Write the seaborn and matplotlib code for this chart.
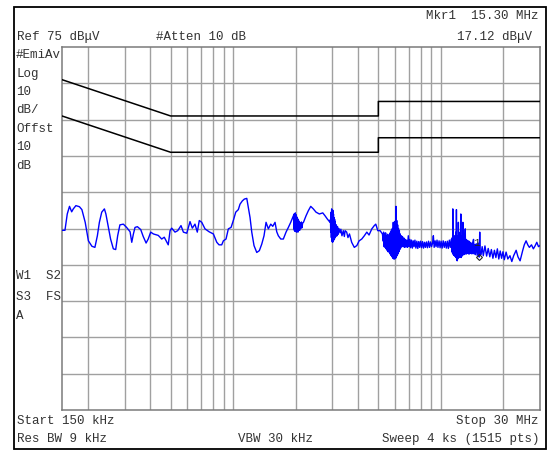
import numpy as np
import pandas as pd
import matplotlib.pyplot as plt
import seaborn as sns
from matplotlib.patches import Rectangle

# EMI scan, average detector: frequency in MHz, level in dBuV
# in segments (smooth part, then the noisy bursts)
seg1_freq = [
    0.150, 0.155, 0.159, 0.163, 0.167, 0.170, 0.175, 0.182, 0.187, 0.194,
    0.201, 0.209, 0.216, 0.222, 0.227, 0.233, 0.240, 0.244, 0.251, 0.257,
    0.265, 0.272, 0.278, 0.285, 0.296, 0.307, 0.319, 0.325, 0.331, 0.337,
    0.346, 0.359, 0.369, 0.381, 0.390, 0.401, 0.413, 0.436, 0.453, 0.466,
    0.487, 0.497, 0.506, 0.525, 0.541, 0.561, 0.576, 0.598, 0.620, 0.636,
    0.655, 0.672, 0.687, 0.706, 0.732, 0.766, 0.803, 0.834, 0.855, 0.881,
    0.897, 0.924, 0.948, 0.977, 1.002, 1.029, 1.059, 1.079, 1.107, 1.132,
    1.163, 1.183, 1.206, 1.229, 1.260, 1.299, 1.337, 1.373, 1.408, 1.440,
    1.477, 1.517, 1.551, 1.591, 1.621, 1.650, 1.695, 1.744, 1.797, 1.844,
    1.893, 1.949,
]
seg1_level = [
    24.5, 24.5, 29.0, 31.1, 29.6, 30.4, 31.3, 31.0, 30.2, 26.7,
    21.6, 20.1, 19.8, 23.0, 26.7, 29.5, 30.4, 29.0, 25.3, 22.1,
    19.4, 19.2, 23.0, 26.0, 26.2, 25.3, 24.1, 21.2, 23.5, 25.3,
    25.5, 24.7, 22.8, 21.0, 22.1, 24.0, 23.5, 23.1, 22.1, 22.6,
    20.5, 24.4, 25.1, 24.0, 24.4, 25.8, 24.0, 23.7, 26.9, 25.1,
    26.2, 24.0, 27.2, 26.7, 24.9, 24.1, 23.5, 21.2, 20.5, 20.5,
    21.6, 22.1, 24.9, 25.3, 27.2, 29.5, 30.2, 31.7, 32.6, 33.1,
    33.3, 30.8, 28.0, 24.0, 20.3, 18.4, 18.9, 20.7, 23.0, 26.7,
    24.9, 26.2, 25.6, 26.7, 24.1, 23.0, 22.1, 22.1, 24.0, 25.3,
    26.7, 28.5,
]

seg2_freq = [
    1.955, 1.960, 1.965, 1.970, 1.978, 1.985, 1.992, 2.000, 2.008, 2.016,
    2.024, 2.032, 2.040, 2.050, 2.060, 2.070, 2.080, 2.090, 2.100, 2.115,
    2.130, 2.145, 2.160, 2.180, 2.243, 2.301, 2.363, 2.432, 2.506, 2.600,
    2.700, 2.769, 2.841, 2.927,
]
seg2_level = [
    27.5, 25.0, 29.0, 24.5, 28.6, 24.2, 29.3, 24.8, 28.8, 24.0,
    28.2, 24.4, 27.8, 24.0, 27.4, 24.6, 27.0, 24.5, 26.6, 25.0,
    26.8, 25.2, 26.5, 26.7, 28.5, 29.9, 31.1, 30.4, 29.5, 29.0,
    29.3, 28.5, 27.6, 26.7,
]

seg3_freq = [
    2.94, 2.95, 2.96, 2.97, 2.98, 2.99, 3.00, 3.01, 3.02, 3.03,
    3.04, 3.05, 3.06, 3.07, 3.08, 3.09, 3.10, 3.12, 3.14, 3.16,
    3.18, 3.20, 3.23, 3.27, 3.30, 3.34, 3.39, 3.43, 3.46, 3.52,
    3.57, 3.63, 3.72, 3.83, 3.94, 4.04, 4.16, 4.28, 4.40, 4.51,
    4.65, 4.78, 4.86, 4.97, 5.10, 5.23,
]
seg3_level = [
    27.5, 24.0, 29.5, 22.5, 30.4, 21.5, 29.8, 21.2, 30.0, 21.5,
    29.0, 21.8, 28.0, 22.0, 27.5, 22.4, 26.8, 22.8, 26.0, 23.0,
    25.5, 23.4, 25.0, 23.8, 24.8, 23.0, 24.4, 22.8, 24.4, 24.0,
    22.5, 23.5, 21.2, 19.8, 20.3, 21.6, 22.1, 23.0, 24.0, 23.2,
    24.9, 25.8, 26.2, 24.4, 24.4, 23.5,
]

seg4_freq = [
    5.28, 5.30, 5.33, 5.36, 5.39, 5.42, 5.45, 5.48, 5.51, 5.54,
    5.57, 5.60, 5.63, 5.66, 5.69, 5.72, 5.75, 5.78, 5.81, 5.84,
    5.87, 5.90, 5.93, 5.96, 5.99, 6.02, 6.05, 6.08, 6.10, 6.13,
    6.16, 6.19, 6.22, 6.25, 6.28, 6.31, 6.34, 6.37, 6.40, 6.44,
    6.48,
]
seg4_level = [
    21.5, 24.0, 20.0, 23.5, 19.8, 23.8, 19.4, 23.0, 19.0, 23.4,
    18.6, 22.8, 18.5, 23.5, 18.0, 24.0, 17.6, 24.5, 17.2, 25.0,
    16.8, 26.7, 16.6, 25.5, 16.6, 27.0, 16.8, 31.1, 17.0, 27.2,
    17.5, 26.0, 18.0, 25.0, 18.6, 24.4, 19.2, 23.5, 19.6, 23.0,
    20.0,
]

seg5_freq = [
    6.53, 6.58, 6.63, 6.68, 6.73, 6.78, 6.84, 6.90, 6.97, 7.03,
    7.09, 7.15, 7.22, 7.29, 7.36, 7.43, 7.50, 7.58, 7.66, 7.74,
    7.82, 7.90, 7.98, 8.07, 8.16, 8.25, 8.34, 8.43, 8.52, 8.62,
    8.72, 8.82, 8.92, 9.02, 9.12, 9.20, 9.28, 9.38, 9.48, 9.58,
    9.68, 9.80, 9.91, 10.02, 10.14, 10.26, 10.38, 10.50, 10.62, 10.74,
    10.86, 10.98, 11.10, 11.22,
]
seg5_level = [
    22.8, 20.0, 22.4, 19.8, 22.0, 19.9, 21.8, 19.8, 23.0, 20.0,
    22.0, 19.7, 21.8, 19.6, 21.6, 20.0, 21.8, 19.6, 21.5, 19.5,
    21.4, 19.8, 21.5, 19.7, 21.4, 19.6, 21.2, 19.8, 21.3, 19.7,
    21.5, 19.8, 21.3, 20.0, 21.0, 23.0, 19.8, 21.6, 20.0, 21.8,
    19.8, 21.6, 19.7, 21.5, 19.6, 21.6, 19.8, 21.4, 19.6, 21.5,
    19.5, 21.8, 19.8, 22.0,
]

seg6_freq = [
    11.30, 11.33, 11.36, 11.39, 11.41, 11.44, 11.47, 11.50, 11.53, 11.56,
    11.60, 11.63, 11.67, 11.70, 11.74, 11.77, 11.81, 11.85, 11.88, 11.91,
    11.95, 11.98, 12.02, 12.05, 12.09, 12.12, 12.14, 12.17, 12.21, 12.25,
    12.29, 12.33, 12.38, 12.42, 12.47, 12.51, 12.55, 12.59, 12.64, 12.69,
    12.76, 12.80, 12.85, 12.90, 12.95, 13.00, 13.05, 13.10, 13.15, 13.22,
    13.28, 13.35, 13.42, 13.50, 13.58, 13.66, 13.74, 13.82, 13.90, 14.00,
    14.10, 14.20, 14.36, 14.45, 14.55, 14.65, 14.80, 14.95, 15.10, 15.20,
    15.30, 15.38, 15.45,
]
seg6_level = [
    22.0, 18.5, 22.5, 18.2, 30.4, 18.0, 23.5, 17.8, 22.8, 17.6,
    22.5, 17.5, 23.0, 17.4, 22.4, 17.2, 24.0, 17.0, 30.2, 16.4,
    23.0, 16.1, 23.0, 16.6, 22.6, 17.0, 26.7, 17.2, 23.5, 17.0,
    23.0, 17.2, 24.0, 17.4, 29.0, 17.0, 23.0, 17.4, 22.6, 17.5,
    26.7, 17.8, 22.5, 17.8, 22.0, 18.0, 22.2, 24.9, 18.0, 22.0,
    18.0, 21.8, 18.2, 21.6, 18.0, 21.5, 18.0, 21.2, 18.2, 21.0,
    18.0, 20.8, 22.0, 18.0, 20.6, 17.8, 20.8, 17.6, 21.0, 17.5,
    17.12, 24.0, 18.0,
]

seg7_freq = [
    15.60, 15.80, 16.00, 16.30, 16.60, 16.90, 17.20, 17.50, 17.80, 18.10,
    18.40, 18.70, 19.00, 19.30, 19.60, 19.90, 20.20, 20.60, 21.00, 21.50,
    21.95, 22.40, 23.03, 23.50, 24.06, 24.78, 25.20, 25.71, 26.20, 26.67,
    27.30, 27.87, 28.40, 28.95, 29.50, 30.00,
]
seg7_level = [
    17.8, 20.0, 17.5, 20.2, 17.4, 19.5, 17.2, 19.2, 16.8, 19.0,
    17.0, 19.4, 16.6, 18.8, 16.8, 18.6, 16.4, 18.5, 16.6, 17.5,
    15.9, 17.5, 19.0, 17.2, 16.1, 19.0, 20.5, 21.6, 20.5, 19.8,
    20.5, 19.4, 20.2, 21.2, 20.0, 20.3,
]

# CISPR 22 class B limit lines (quasi-peak and average)
limit_freq = [0.15, 0.5, 5.0, 5.0, 30.0]
qp_limit = [66, 56, 56, 60, 60]
avg_limit = [56, 46, 46, 50, 50]

marker_freq = 15.30
marker_level = 17.12

ref_level = 75
db_per_div = 10

grid_freqs = [0.2, 0.3, 0.4, 0.5, 0.6, 0.7, 0.8, 0.9, 1, 2, 3, 4, 5, 6, 7, 8, 9, 10, 20]

trace = pd.DataFrame({
    "freq": seg1_freq + seg2_freq + seg3_freq + seg4_freq + seg5_freq + seg6_freq + seg7_freq,
    "level": seg1_level + seg2_level + seg3_level + seg4_level + seg5_level + seg6_level + seg7_level,
})

W, H = 547, 452
fig = plt.figure(figsize=(W / 100, H / 100), dpi=100)
ax = fig.add_axes([62 / W, 1 - 411 / H, 478 / W, 363 / H])

grid_col = "#a0a0a0"
for f in grid_freqs:
    ax.axvline(f, color=grid_col, lw=1, zorder=1)
for k in range(1, 10):
    ax.axhline(ref_level - k * db_per_div, color=grid_col, lw=1, zorder=1)

sns.lineplot(x=limit_freq, y=qp_limit, ax=ax, color="black", lw=1.1,
             estimator=None, sort=False, zorder=3)
sns.lineplot(x=limit_freq, y=avg_limit, ax=ax, color="black", lw=1.1,
             estimator=None, sort=False, zorder=3)
sns.lineplot(data=trace, x="freq", y="level", ax=ax, color="#0000ff", lw=1.0,
             estimator=None, sort=False, zorder=4)

ax.plot([marker_freq], [marker_level], marker="D", ms=3, mfc="none",
        mec="#222222", mew=0.8, zorder=5)
ax.annotate("1", (marker_freq, marker_level), xytext=(-2, 7),
            textcoords="offset points", fontsize=8, family="Liberation Mono",
            color="#222222", ha="center", va="bottom", zorder=6)

ax.set_xscale("log")
ax.set_xlim(0.15, 30)
ax.set_ylim(ref_level - 10 * db_per_div, ref_level)
ax.set_xticks([])
ax.set_yticks([])
ax.minorticks_off()
ax.set_xlabel("")
ax.set_ylabel("")
for s in ax.spines.values():
    s.set_color("#7a7a7a")
    s.set_linewidth(1.1)

# outer instrument frame
fig.patches.append(Rectangle((14 / W, 1 - 450 / H), 532 / W, 442 / H,
                             transform=fig.transFigure, fill=False,
                             edgecolor="black", lw=1.3))


def label(x, y, s, ha="left"):
    fig.text(x / W, 1 - y / H, s, ha=ha, va="center", fontsize=9,
             family="Liberation Mono", color="#333333")


label(539, 16, "Mkr1  15.30 MHz", ha="right")
label(17, 37, "Ref 75 dB\u03bcV")
label(156, 37, "#Atten 10 dB")
label(532, 37, "17.12 dB\u03bcV", ha="right")

side = ["#EmiAv", "Log", "10", "dB/", "Offst", "10", "dB"]
for i, s in enumerate(side):
    label(16, 55 + i * 18.5, s)
label(16, 276, "W1  S2")
label(16, 297, "S3  FS")
label(16, 316, "A")

label(17, 421, "Start 150 kHz")
label(539, 421, "Stop 30 MHz", ha="right")
label(17, 439, "Res BW 9 kHz")
label(238, 439, "VBW 30 kHz")
label(539, 439, "Sweep 4 ks (1515 pts)", ha="right")

fig.savefig("out.png", dpi=100)
